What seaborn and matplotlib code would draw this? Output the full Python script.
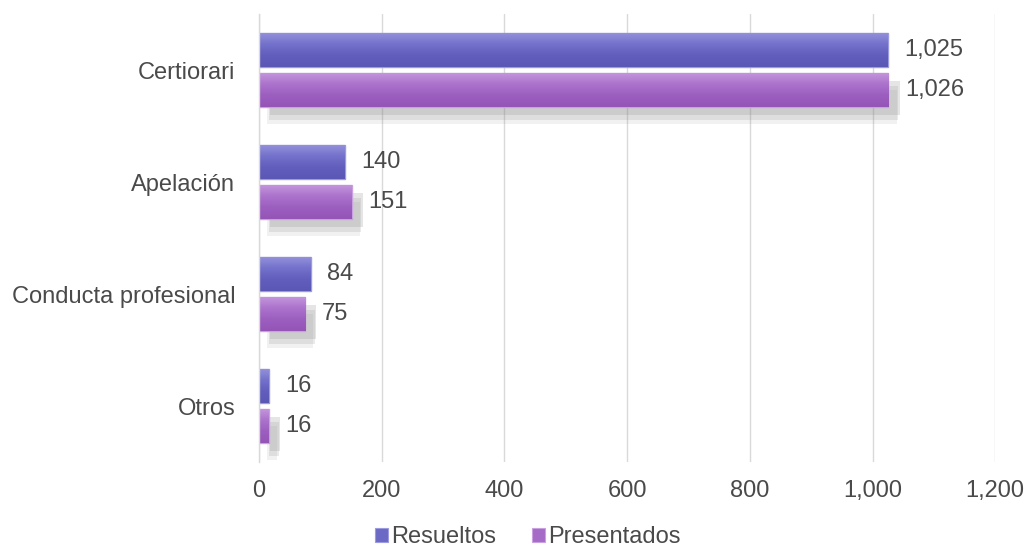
import numpy as np
import pandas as pd
import matplotlib
matplotlib.use("Agg")
import matplotlib.pyplot as plt
import matplotlib.patheffects as pe
from matplotlib.colors import LinearSegmentedColormap
from matplotlib.ticker import FuncFormatter
import seaborn as sns

# data
categories = ["Certiorari", "Apelación", "Conducta profesional", "Otros"]
resueltos = [1025, 140, 84, 16]
presentados = [1026, 151, 75, 16]
series = ["Resueltos", "Presentados"]

df = pd.DataFrame({
    "categoria": categories * 2,
    "valor": resueltos + presentados,
    "serie": [series[0]] * 4 + [series[1]] * 4,
})

sns.set_style("white")
plt.rcParams["font.family"] = ["Liberation Sans", "DejaVu Sans"]
text_color = "#4a4a4a"
fs = 17

fig = plt.figure(figsize=(10.29, 5.5), dpi=100)
ax = fig.add_axes([0.2517, 0.16, 0.7155, 0.8145])

palette = {"Resueltos": "#6b69c4", "Presentados": "#a66bc6"}
grads = {
    "Resueltos": ["#9593dc", "#7472cb", "#615ebd", "#5a57b5"],
    "Presentados": ["#c597de", "#ac74cc", "#9c5ec0", "#9455b6"],
}
edges = {"Resueltos": "#9c9ae0", "Presentados": "#c9a0e0"}

sns.barplot(data=df, y="categoria", x="valor", hue="serie", order=categories,
            hue_order=series, palette=palette, width=0.716, orient="h",
            saturation=1, ax=ax, legend=False)

# soft shadow under the lower bar of each group
shadow = [pe.SimplePatchShadow(offset=(6, -12), shadow_rgbFace="#8c8c8c", alpha=0.12),
          pe.SimplePatchShadow(offset=(7, -9), shadow_rgbFace="#8c8c8c", alpha=0.18),
          pe.SimplePatchShadow(offset=(8, -6), shadow_rgbFace="#8c8c8c", alpha=0.22),
          pe.Normal()]
grad = np.linspace(0, 1, 64).reshape(-1, 1)
for cont, s in zip(ax.containers, series):
    cmap = LinearSegmentedColormap.from_list(s, grads[s])
    for p in cont:
        h = p.get_height()
        p.set_y(p.get_y() + h * 0.075)
        p.set_height(h * 0.85)
        p.set_edgecolor(edges[s])
        p.set_linewidth(1.0)
        if s == "Presentados":
            p.set_path_effects(shadow)
        x, y, w, hh = p.get_x(), p.get_y(), p.get_width(), p.get_height()
        im = ax.imshow(grad, cmap=cmap, extent=(x, x + w, y + hh, y),
                       aspect="auto", zorder=p.get_zorder() + 0.1, interpolation="bilinear")
        im.set_clip_path(p)

for cont in ax.containers:
    ax.bar_label(cont, labels=[f"{v:,.0f}" for v in cont.datavalues],
                 padding=12, fontsize=fs, color=text_color)

ax.set_xlim(0, 1200)
ax.set_ylim(3.5, -0.5)
ax.set_xticks(range(0, 1201, 200))
ax.xaxis.set_major_formatter(FuncFormatter(lambda v, _: f"{v:,.0f}"))
ax.grid(axis="x", color="#d9d9d9", linewidth=1)
ax.set_axisbelow(True)
ax.tick_params(axis="both", length=0, labelsize=fs, labelcolor=text_color)
ax.tick_params(axis="x", pad=13)
ax.tick_params(axis="y", pad=17)
ax.set_xlabel("")
ax.set_ylabel("")
for sp in ["top", "right", "bottom"]:
    ax.spines[sp].set_visible(False)
ax.spines["left"].set_color("#d9d9d9")
ax.spines["left"].set_linewidth(1)

handles = [plt.Rectangle((0, 0), 1, 1, facecolor=palette[s], edgecolor=edges[s], linewidth=0.8)
           for s in series]
fig.legend(handles, series, loc="lower center", bbox_to_anchor=(0.513, -0.035), ncol=2,
           frameon=False, fontsize=fs, handlelength=0.55, handleheight=0.55,
           handletextpad=0.15, columnspacing=1.5, labelcolor=text_color)

fig.savefig("out.png", dpi=100)
